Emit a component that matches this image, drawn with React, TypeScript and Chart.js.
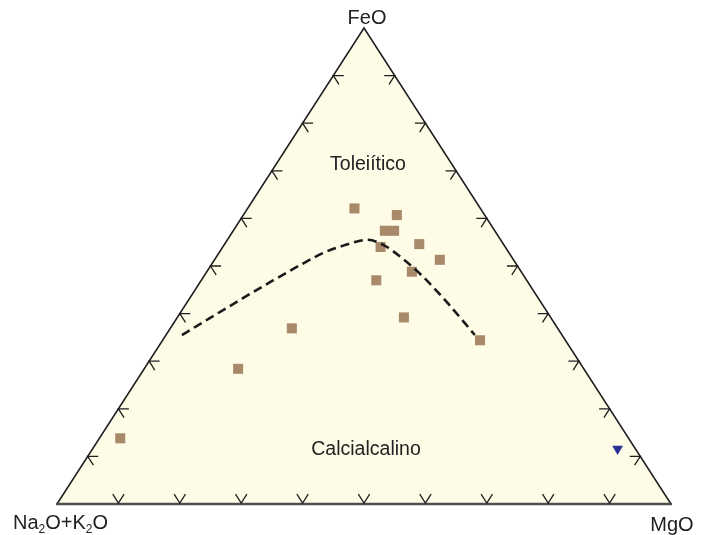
import React, { useEffect, useRef } from "react";
import { Chart, registerables } from "chart.js";

Chart.register(...registerables);

// AFM diagram: A = Na2O+K2O, F = FeO, M = MgO (wt% normalised to 100)
const sampleAlk = [20.5, 14.3, 17.9, 16.4, 20.3, 13.7, 12.0, 17.8, 24.5, 23.9, 13.9, 43.3, 56.3, 82.8];
const sampleFeO = [62.1, 60.7, 57.4, 57.4, 54.0, 54.6, 51.3, 48.8, 47.0, 39.2, 34.4, 36.9, 28.4, 13.8];
const sampleMgO = [17.4, 25.0, 24.7, 26.2, 25.7, 31.7, 36.7, 33.4, 28.5, 36.9, 51.7, 19.8, 15.3, 3.4];

const otherAlk = [2.9];
const otherFeO = [11.6];
const otherMgO = [85.5];

// Tholeiitic / calc-alkaline dividing line
const divideAlk = [61.9, 55.5, 48.8, 42.0, 35.3, 29.9, 25.9, 23.0, 21.6, 19.7, 17.9, 16.6, 15.3, 14.2];
const divideFeO = [35.5, 39.1, 42.9, 46.6, 50.2, 52.9, 54.4, 55.3, 55.5, 54.5, 51.5, 47.7, 42.4, 35.5];
const divideMgO = [2.6, 5.4, 8.4, 11.4, 14.5, 17.2, 19.7, 21.7, 22.9, 25.8, 30.6, 35.8, 42.3, 50.3];

const tickSteps = [10, 20, 30, 40, 50, 60, 70, 80, 90];

const apexTop = "FeO";
const apexRight = "MgO";
const fieldUpper = "Toleiítico";
const fieldLower = "Calcialcalino";

// ternary (F, M) -> cartesian in the unit frame
const toXY = (feo: number, mgo: number) => ({ x: (mgo + feo / 2) / 100, y: feo / 100 });

const FONT = "'Liberation Sans', Arial, sans-serif";

const ternaryFrame = {
  id: "ternaryFrame",
  beforeDatasetsDraw(chart: any) {
    const { ctx, scales } = chart;
    const px = (feo: number, mgo: number) => {
      const p = toXY(feo, mgo);
      return { x: scales.x.getPixelForValue(p.x), y: scales.y.getPixelForValue(p.y) };
    };
    const A = px(0, 0);
    const F = px(100, 0);
    const M = px(0, 100);
    ctx.save();
    ctx.beginPath();
    ctx.moveTo(A.x, A.y);
    ctx.lineTo(F.x, F.y);
    ctx.lineTo(M.x, M.y);
    ctx.closePath();
    ctx.fillStyle = "#fefbe7";
    ctx.fill();

    ctx.strokeStyle = "#1e1e1e";
    ctx.lineWidth = 1.5;
    ctx.beginPath();
    ctx.moveTo(A.x, A.y);
    ctx.lineTo(F.x, F.y);
    ctx.lineTo(M.x, M.y);
    ctx.stroke();

    ctx.strokeStyle = "#4d4d4d";
    ctx.lineWidth = 2.6;
    ctx.beginPath();
    ctx.moveTo(A.x - 1, A.y);
    ctx.lineTo(M.x + 1, M.y);
    ctx.stroke();

    // edge direction vectors
    const len = 10.5;
    const lx = F.x - A.x, ly = F.y - A.y;
    const ll = Math.hypot(lx, ly);
    const ux = lx / ll, uy = ly / ll; // up-right along left edge
    const rx = M.x - F.x, ry = M.y - F.y;
    const rl = Math.hypot(rx, ry);
    const vx = rx / rl, vy = ry / rl; // down-right along right edge

    ctx.strokeStyle = "#1e1e1e";
    ctx.lineWidth = 1.3;
    tickSteps.forEach((t) => {
      // bottom edge: V opening upward
      const b = px(0, t);
      ctx.beginPath();
      ctx.moveTo(b.x - vx * len, b.y - 1 - vy * len);
      ctx.lineTo(b.x, b.y - 1);
      ctx.lineTo(b.x + ux * len, b.y - 1 + uy * len);
      ctx.stroke();
      // left edge
      const l = px(t, 0);
      ctx.beginPath();
      ctx.moveTo(l.x + len, l.y);
      ctx.lineTo(l.x, l.y);
      ctx.lineTo(l.x + vx * len, l.y + vy * len);
      ctx.stroke();
      // right edge
      const r = px(t, 100 - t);
      ctx.beginPath();
      ctx.moveTo(r.x - len, r.y);
      ctx.lineTo(r.x, r.y);
      ctx.lineTo(r.x - ux * len, r.y - uy * len);
      ctx.stroke();
    });
    ctx.restore();
  },
  afterDraw(chart: any) {
    const { ctx, scales } = chart;
    const px = (feo: number, mgo: number) => {
      const p = toXY(feo, mgo);
      return { x: scales.x.getPixelForValue(p.x), y: scales.y.getPixelForValue(p.y) };
    };
    const A = px(0, 0);
    const F = px(100, 0);
    const M = px(0, 100);
    ctx.save();
    ctx.fillStyle = "#222222";
    ctx.textBaseline = "alphabetic";
    ctx.font = `20px ${FONT}`;
    ctx.textAlign = "center";
    ctx.fillText(apexTop, F.x + 3, F.y - 4);
    ctx.fillText(apexRight, M.x + 1, M.y + 27);
    ctx.font = `19.5px ${FONT}`;
    ctx.fillText(fieldUpper, F.x + 4, F.y + 142);
    ctx.fillText(fieldLower, F.x + 2, F.y + 427);

    // Na2O+K2O with subscripts
    const parts: [string, boolean][] = [
      ["Na", false],
      ["2", true],
      ["O+K", false],
      ["2", true],
      ["O", false],
    ];
    ctx.textAlign = "left";
    let x = A.x - 44;
    const base = A.y + 25;
    parts.forEach(([txt, sub]) => {
      ctx.font = sub ? `12px ${FONT}` : `20px ${FONT}`;
      ctx.fillText(txt, x, sub ? base + 4 : base);
      x += ctx.measureText(txt).width;
    });
    ctx.restore();
  },
};

export default function App() {
  const ref = useRef<HTMLCanvasElement | null>(null);

  useEffect(() => {
    if (!ref.current) return;
    const samples = sampleFeO.map((f, i) => toXY(f, sampleMgO[i]));
    const others = otherFeO.map((f, i) => toXY(f, otherMgO[i]));
    const divide = divideFeO.map((f, i) => toXY(f, divideMgO[i]));

    const chart = new Chart(ref.current, {
      type: "scatter",
      data: {
        datasets: [
          {
            type: "line",
            data: divide,
            borderColor: "#1a1a1a",
            borderWidth: 2.6,
            borderDash: [9, 5],
            pointRadius: 0,
            cubicInterpolationMode: "monotone",
            fill: false,
            clip: false as any,
          },
          {
            data: samples,
            pointStyle: "rect",
            pointRadius: 7.1,
            pointBackgroundColor: "#a88a6b",
            pointBorderWidth: 0,
            borderColor: "#a88a6b",
            clip: false as any,
          },
          {
            data: others,
            pointStyle: "triangle",
            rotation: 180,
            pointRadius: 6.2,
            pointBackgroundColor: "#2c2f96",
            pointBorderWidth: 0,
            borderColor: "#2c2f96",
            clip: false as any,
          },
        ],
      },
      options: {
        animation: false,
        responsive: false,
        layout: { padding: { left: 57, right: 39, top: 28, bottom: 31 } },
        plugins: { legend: { display: false }, tooltip: { enabled: false } },
        scales: {
          x: { type: "linear", min: 0, max: 1, display: false },
          y: { type: "linear", min: 0, max: 1, display: false },
        },
      },
      plugins: [ternaryFrame],
    });
    return () => chart.destroy();
  }, []);

  return (
    <div style={{ position: "absolute", left: 0, top: 0, width: 710, height: 535, background: "#ffffff" }}>
      <canvas ref={ref} width={710} height={535} />
    </div>
  );
}
